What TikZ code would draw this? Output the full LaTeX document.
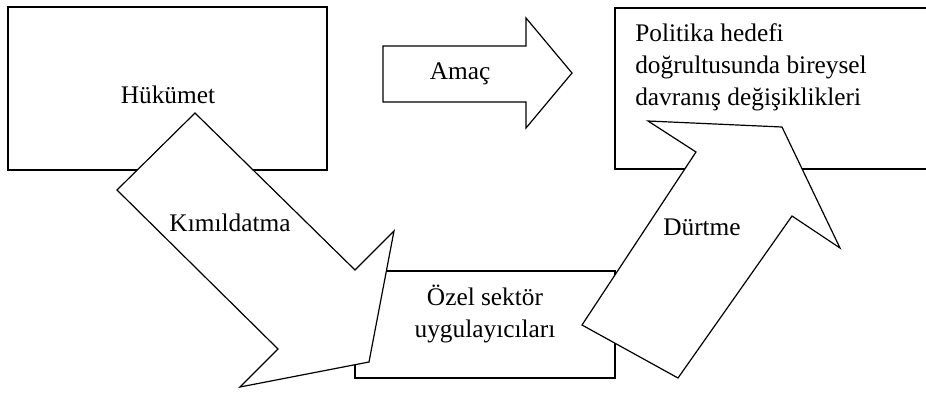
\documentclass[tikz,border=0pt]{standalone}
\usepackage{fontspec}
\setmainfont{Liberation Serif}
\begin{document}
\begin{tikzpicture}[x=0.75pt,y=-0.75pt,
  boxline/.style={draw, line width=0.9pt},
  blockarrow/.style={draw, fill=white, line width=0.9pt, line join=miter},
  lbl/.style={font=\fontsize{19}{24}\selectfont, inner sep=0pt, anchor=base}]
\useasboundingbox (0,0) rectangle (926,393);
\begin{scope}
\clip (0,0) rectangle (926,393);
% boxes
\draw[boxline] (8,7) rectangle (327,170);
\draw[boxline] (355,271) rectangle (615,378);
\draw[boxline] (615,8) rectangle (940,169);
% Amac arrow
\draw[blockarrow] (383,46) -- (526,46) -- (526,18) -- (572,73) -- (526,128) -- (526,102) -- (383,102) -- cycle;
% Kimildatma arrow
\draw[blockarrow] (195,113) -- (355,270) -- (394,231) -- (369,362) -- (240,387) -- (278,349) -- (117,190) -- cycle;
% Durtme arrow
\draw[blockarrow] (582,325) -- (696,152) -- (648,121) -- (782,127) -- (840,248) -- (792,216) -- (678,378) -- cycle;
\end{scope}
% texts
\node[lbl] (gov) at (168,103) {Hükümet};
\node[lbl] (goal) at (460,79) {Amaç};
\node[lbl, anchor=base west, align=left] (target) at (635,105) {Politika hedefi\\doğrultusunda bireysel\\davranış değişiklikleri};
\node[lbl] (kim) at (230,231) {Kımıldatma};
\node[lbl] (durt) at (702,235) {Dürtme};
\node[lbl, align=center] (priv) at (485,337) {Özel sektör\\uygulayıcıları};
\end{tikzpicture}
\end{document}
